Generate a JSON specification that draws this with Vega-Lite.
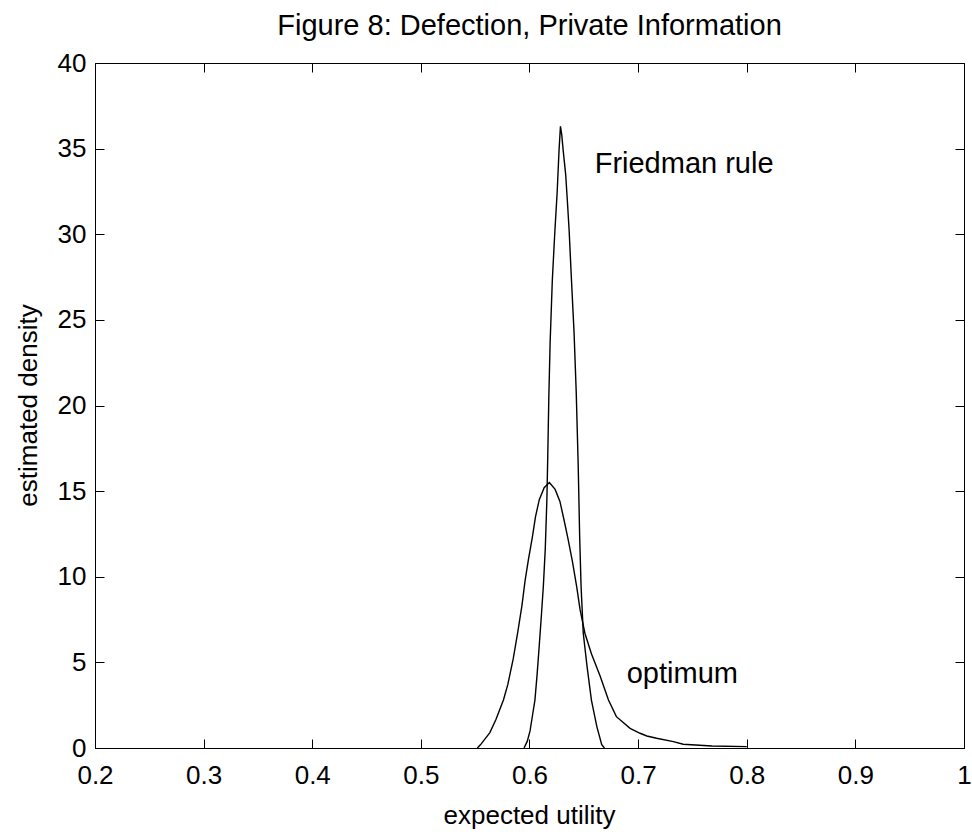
{
  "$schema": "https://vega.github.io/schema/vega-lite/v6.json",
  "width": 869,
  "height": 685,
  "autosize": {"type": "none"},
  "padding": {"left": 95, "top": 63, "right": 8, "bottom": 88},
  "background": "white",
  "config": {
    "view": {"stroke": "black", "strokeWidth": 1},
    "font": "Liberation Sans",
    "axis": {
      "grid": false,
      "domainColor": "black",
      "tickColor": "black",
      "labelColor": "black",
      "titleColor": "black",
      "labelFont": "Liberation Sans",
      "titleFont": "Liberation Sans",
      "labelFontSize": 26,
      "titleFontSize": 26,
      "titleFontWeight": "normal",
      "tickSize": -9,
      "labelFlush": false,
      "labelOverlap": false
    }
  },
  "title": {
    "text": "Figure 8: Defection, Private Information",
    "fontSize": 29,
    "fontWeight": "normal",
    "font": "Liberation Sans",
    "color": "black",
    "anchor": "middle",
    "offset": 9
  },
  "datasets": {
    "curves": [
      {"series": "Friedman rule", "x": 0.595, "y": 0},
      {"series": "Friedman rule", "x": 0.598, "y": 0.4},
      {"series": "Friedman rule", "x": 0.6005, "y": 1.0},
      {"series": "Friedman rule", "x": 0.603, "y": 2.0},
      {"series": "Friedman rule", "x": 0.605, "y": 2.8},
      {"series": "Friedman rule", "x": 0.607, "y": 4.3},
      {"series": "Friedman rule", "x": 0.609, "y": 6.0},
      {"series": "Friedman rule", "x": 0.611, "y": 7.8},
      {"series": "Friedman rule", "x": 0.6128, "y": 9.5},
      {"series": "Friedman rule", "x": 0.6145, "y": 11.6},
      {"series": "Friedman rule", "x": 0.616, "y": 14.5},
      {"series": "Friedman rule", "x": 0.6168, "y": 17.0},
      {"series": "Friedman rule", "x": 0.6178, "y": 20.5},
      {"series": "Friedman rule", "x": 0.619, "y": 23.7},
      {"series": "Friedman rule", "x": 0.621, "y": 27.3},
      {"series": "Friedman rule", "x": 0.6232, "y": 30.0},
      {"series": "Friedman rule", "x": 0.6255, "y": 32.5},
      {"series": "Friedman rule", "x": 0.6272, "y": 34.9},
      {"series": "Friedman rule", "x": 0.6285, "y": 36.3},
      {"series": "Friedman rule", "x": 0.6297, "y": 35.8},
      {"series": "Friedman rule", "x": 0.631, "y": 34.9},
      {"series": "Friedman rule", "x": 0.6333, "y": 33.5},
      {"series": "Friedman rule", "x": 0.635, "y": 31.8},
      {"series": "Friedman rule", "x": 0.6365, "y": 30.2},
      {"series": "Friedman rule", "x": 0.6385, "y": 27.5},
      {"series": "Friedman rule", "x": 0.641, "y": 24.3},
      {"series": "Friedman rule", "x": 0.643, "y": 20.8},
      {"series": "Friedman rule", "x": 0.6448, "y": 16.6},
      {"series": "Friedman rule", "x": 0.6462, "y": 12.3},
      {"series": "Friedman rule", "x": 0.6475, "y": 9.4},
      {"series": "Friedman rule", "x": 0.6495, "y": 6.7},
      {"series": "Friedman rule", "x": 0.653, "y": 4.75},
      {"series": "Friedman rule", "x": 0.657, "y": 2.8},
      {"series": "Friedman rule", "x": 0.662, "y": 1.25},
      {"series": "Friedman rule", "x": 0.6665, "y": 0.2},
      {"series": "Friedman rule", "x": 0.669, "y": 0},
      {"series": "optimum", "x": 0.552, "y": 0},
      {"series": "optimum", "x": 0.555, "y": 0.2},
      {"series": "optimum", "x": 0.5635, "y": 0.9},
      {"series": "optimum", "x": 0.569, "y": 1.65},
      {"series": "optimum", "x": 0.576, "y": 2.8},
      {"series": "optimum", "x": 0.58, "y": 3.7},
      {"series": "optimum", "x": 0.585, "y": 5.2},
      {"series": "optimum", "x": 0.589, "y": 6.7},
      {"series": "optimum", "x": 0.593, "y": 8.3},
      {"series": "optimum", "x": 0.596, "y": 9.8},
      {"series": "optimum", "x": 0.599, "y": 11.0},
      {"series": "optimum", "x": 0.6026, "y": 12.3},
      {"series": "optimum", "x": 0.6055, "y": 13.5},
      {"series": "optimum", "x": 0.609, "y": 14.5},
      {"series": "optimum", "x": 0.6135, "y": 15.2},
      {"series": "optimum", "x": 0.6183, "y": 15.5},
      {"series": "optimum", "x": 0.6236, "y": 15.1},
      {"series": "optimum", "x": 0.628, "y": 14.4},
      {"series": "optimum", "x": 0.6315, "y": 13.4},
      {"series": "optimum", "x": 0.6355, "y": 12.2},
      {"series": "optimum", "x": 0.6395, "y": 10.9},
      {"series": "optimum", "x": 0.6435, "y": 9.4},
      {"series": "optimum", "x": 0.6466, "y": 8.06},
      {"series": "optimum", "x": 0.651, "y": 6.7},
      {"series": "optimum", "x": 0.657, "y": 5.5},
      {"series": "optimum", "x": 0.665, "y": 4.2},
      {"series": "optimum", "x": 0.6727, "y": 2.8},
      {"series": "optimum", "x": 0.68, "y": 1.83},
      {"series": "optimum", "x": 0.6926, "y": 1.15},
      {"series": "optimum", "x": 0.7018, "y": 0.86},
      {"series": "optimum", "x": 0.708, "y": 0.7},
      {"series": "optimum", "x": 0.717, "y": 0.57},
      {"series": "optimum", "x": 0.7325, "y": 0.37},
      {"series": "optimum", "x": 0.7415, "y": 0.22},
      {"series": "optimum", "x": 0.768, "y": 0.12},
      {"series": "optimum", "x": 0.8, "y": 0.08}
    ],
    "labels": [
      {"label": "Friedman rule", "x": 0.66, "y": 33.6},
      {"label": "optimum", "x": 0.6895, "y": 3.8}
    ]
  },
  "layer": [
    {
      "data": {"name": "curves"},
      "mark": {"type": "line", "color": "black", "strokeWidth": 1.4},
      "encoding": {
        "x": {
          "field": "x", "type": "quantitative",
          "scale": {"domain": [0.2, 1], "nice": false, "zero": false},
          "axis": {"orient": "bottom", "title": "expected utility", "values": [0.2, 0.3, 0.4, 0.5, 0.6, 0.7, 0.8, 0.9, 1], "format": "~g", "labelPadding": 23, "titleX": 434, "titleY": 67, "titleBaseline": "middle"}
        },
        "y": {
          "field": "y", "type": "quantitative",
          "scale": {"domain": [0, 40], "nice": false},
          "axis": {"orient": "left", "title": "estimated density", "values": [0, 5, 10, 15, 20, 25, 30, 35, 40], "labelPadding": 18, "titleX": -67, "titleY": 342, "titleBaseline": "middle"}
        },
        "detail": {"field": "series"}
      }
    },
    {
      "data": {"name": "curves"},
      "mark": {"type": "line", "strokeOpacity": 0},
      "encoding": {
        "x": {
          "field": "x", "type": "quantitative",
          "scale": {"domain": [0.2, 1], "nice": false, "zero": false},
          "axis": {"orient": "top", "title": null, "labels": false, "values": [0.2, 0.3, 0.4, 0.5, 0.6, 0.7, 0.8, 0.9, 1]}
        },
        "y": {
          "field": "y", "type": "quantitative",
          "scale": {"domain": [0, 40], "nice": false},
          "axis": {"orient": "right", "title": null, "labels": false, "values": [0, 5, 10, 15, 20, 25, 30, 35, 40]}
        },
        "detail": {"field": "series"}
      }
    },
    {
      "data": {"name": "labels"},
      "mark": {"type": "text", "align": "left", "baseline": "alphabetic", "fontSize": 29, "font": "Liberation Sans", "color": "black"},
      "encoding": {
        "x": {"field": "x", "type": "quantitative", "axis": null},
        "y": {"field": "y", "type": "quantitative", "axis": null},
        "text": {"field": "label"}
      }
    }
  ],
  "resolve": {"axis": {"x": "independent", "y": "independent"}}
}
